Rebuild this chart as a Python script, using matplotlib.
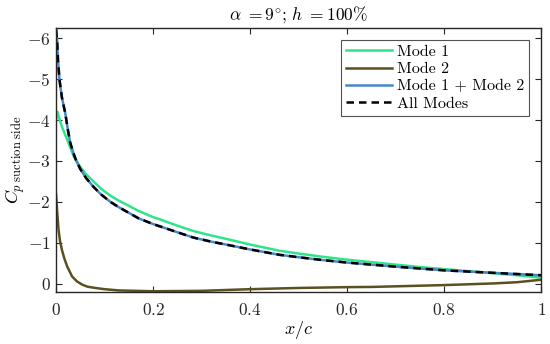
import numpy as np
import matplotlib
matplotlib.use('Agg')
import matplotlib.pyplot as plt

plt.rcParams['font.family'] = ['cmr10', 'DejaVu Serif']
plt.rcParams['mathtext.fontset'] = 'cm'
plt.rcParams['axes.formatter.use_mathtext'] = True
plt.rcParams['axes.unicode_minus'] = True

# %% data
x_all = [0, 0.002, 0.004, 0.007, 0.012, 0.019, 0.024, 0.029, 0.035, 0.04, 0.05, 0.062,
         0.077, 0.093, 0.111, 0.128, 0.146, 0.17, 0.2, 0.215, 0.25, 0.283, 0.32, 0.35,
         0.4, 0.46, 0.5, 0.55, 0.6, 0.65, 0.7, 0.75, 0.8, 0.85, 0.9, 0.95, 1.0]
cp_all = [-6.2, -5.95, -5.45, -4.98, -4.55, -4.16, -3.78, -3.45, -3.22, -3.05, -2.8, -2.58,
          -2.37, -2.18, -2.01, -1.88, -1.76, -1.6, -1.46, -1.40, -1.26, -1.13, -1.03, -0.96,
          -0.84, -0.71, -0.65, -0.58, -0.52, -0.47, -0.42, -0.375, -0.33, -0.30, -0.27, -0.24, -0.21]

x_m1 = [0, 0.003, 0.007, 0.012, 0.019, 0.026, 0.036, 0.047, 0.06, 0.077, 0.093, 0.111,
        0.128, 0.146, 0.17, 0.2, 0.215, 0.25, 0.283, 0.32, 0.35, 0.4, 0.46, 0.5, 0.55,
        0.6, 0.65, 0.7, 0.75, 0.8, 0.85, 0.9, 0.95, 1.0]
cp_m1 = [-4.0, -4.2, -4.02, -3.84, -3.63, -3.43, -3.12, -2.9, -2.7, -2.5, -2.32, -2.16,
         -2.04, -1.93, -1.78, -1.63, -1.57, -1.42, -1.29, -1.18, -1.1, -0.96, -0.81, -0.74, -0.66,
         -0.59, -0.53, -0.47, -0.41, -0.36, -0.31, -0.26, -0.21, -0.15]

x_m2 = [0, 0.002, 0.005, 0.008, 0.012, 0.017, 0.023, 0.033, 0.043, 0.054, 0.065, 0.081,
        0.1, 0.129, 0.2, 0.3, 0.4, 0.5, 0.6, 0.65, 0.7, 0.8, 0.9, 0.95, 1.0]
cp_m2 = [-2.17, -1.8, -1.32, -1.05, -0.83, -0.62, -0.42, -0.18, -0.06, 0.02, 0.07, 0.1,
         0.13, 0.16, 0.18, 0.17, 0.13, 0.1, 0.08, 0.075, 0.06, 0.03, -0.01, -0.04, -0.1]

# mode 1 + mode 2 sits right under the all-modes curve
x_m12 = x_all
cp_m12 = cp_all

# %%
fig = plt.figure(figsize=(5.5, 3.44), dpi=100)
ax = fig.add_axes([0.102, 0.151, 0.882, 0.768])

ax.plot(x_m1, cp_m1, color='#2EE58A', linewidth=1.8, label='Mode 1')
ax.plot(x_m2, cp_m2, color='#5B5020', linewidth=1.8, label='Mode 2')
ax.plot(x_m12, cp_m12, color='#4A87C9', linewidth=1.8, label='Mode 1 + Mode 2')
ax.plot(x_all, cp_all, color='black', linewidth=1.8, linestyle=(0, (3, 2)), label='All Modes')

ax.set_xlim(0, 1)
ax.set_ylim(0.2, -6.25)
ax.set_xticks([0, 0.2, 0.4, 0.6, 0.8, 1])
ax.set_xticklabels(['$0$', '$0.2$', '$0.4$', '$0.6$', '$0.8$', '$1$'])
ax.set_yticks([-6, -5, -4, -3, -2, -1, 0])

ax.tick_params(direction='in', top=True, right=True, labelsize=12.5, length=4,
               width=0.8, color='#262626', labelcolor='#262626')
ax.tick_params(axis='y', pad=4)
ax.tick_params(axis='x', pad=7)
for s in ax.spines.values():
    s.set_linewidth(1.0)
    s.set_color('#262626')

ax.set_xlabel('$x/c$', fontsize=13, labelpad=1)
ax.set_ylabel(r'$C_{p\ \mathrm{suction\ side}}$', fontsize=13, labelpad=0)
ax.set_title(r'$\alpha\ {=}9^{\circ};\, h\ {=}100\%$', fontsize=12.5, pad=6)

leg = ax.legend(loc='upper right', fontsize=11.5, frameon=True, fancybox=False,
                edgecolor='#262626', borderpad=0.3, labelspacing=0.2,
                handlelength=2.9, handletextpad=0.3, borderaxespad=0.75)
leg.get_frame().set_linewidth(0.8)

plt.savefig('out.png', dpi=100)
